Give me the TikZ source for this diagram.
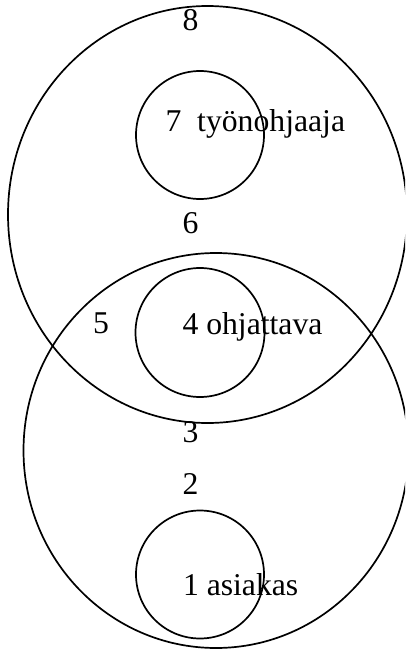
\documentclass[tikz,border=0pt]{standalone}
\usepackage{fontspec}
\setmainfont{Liberation Serif}
\begin{document}
\begin{tikzpicture}[x=1pt,y=-1pt,
  ring/.style={draw=black,line width=1.7pt},
  lbl/.style={inner sep=0pt,outer sep=0pt,font=\fontsize{31.7}{36}\selectfont}]
\useasboundingbox (0,0) rectangle (405,651);
\clip (0,0) rectangle (405,651);
% big ellipses
\draw[ring] (207.5,214.5) ellipse [x radius=199.5, y radius=208.5];
\draw[ring] (216,450.5) ellipse [x radius=192.5, y radius=197.5];
% small circles
\draw[ring] (200,135) circle [radius=64];
\draw[ring] (200,332.5) circle [radius=64.5];
\draw[ring] (200,574.5) circle [radius=64];
% labels
\node[lbl,anchor=base] (n8) at (190.5,30) {8};
\node[lbl,anchor=base west] (n7) at (165.5,131) {7\ \ työnohjaaja};
\node[lbl,anchor=base] (n6) at (190.5,233) {6};
\node[lbl,anchor=base] (n5) at (101,333) {5};
\node[lbl,anchor=base west] (n4) at (182.5,334) {4 ohjattava};
\node[lbl,anchor=base] (n3) at (190.5,442) {3};
\node[lbl,anchor=base] (n2) at (190.5,494) {2};
\node[lbl,anchor=base west] (n1) at (183,595) {1 asiakas};
\end{tikzpicture}
\end{document}
